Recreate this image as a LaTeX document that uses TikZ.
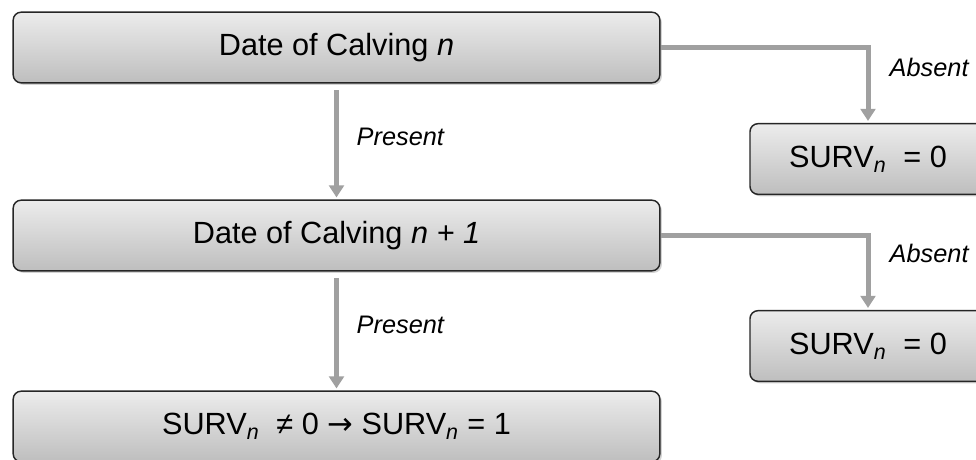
\documentclass[tikz,border=0pt]{standalone}
\usepackage{fontspec}
\setmainfont{Liberation Sans}
\newfontfamily\arrowfont{DejaVu Sans}
\usetikzlibrary{arrows.meta,shadows}
\definecolor{boxtop}{RGB}{236,236,236}
\definecolor{boxbot}{RGB}{190,190,190}
\definecolor{linkgray}{RGB}{160,160,160}
\tikzset{
  stagebox/.style={draw=black!85,line width=1.1pt,rounded corners=6pt,
    top color=boxtop,bottom color=boxbot,
    drop shadow={shadow xshift=1.5pt,shadow yshift=-1.5pt,opacity=0.35},
    minimum width=485pt,minimum height=53pt,font=\fontsize{23}{27}\selectfont},
  endbox/.style={stagebox,minimum width=177pt},
  link/.style={linkgray,line width=3.75pt,-{Triangle[width=11pt,length=9pt]}},
  tag/.style={text=black,font=\fontsize{19}{22}\selectfont\itshape,anchor=west}
}
\newcommand{\survn}{SURV\textsubscript{\itshape n}}
\begin{document}
\begin{tikzpicture}[x=0.75pt,y=-0.75pt]
      \useasboundingbox (0,0) rectangle (976,460);
      \node[stagebox] (calv1) at (336.5,47.5) {Date of Calving \textit{n}};
      \node[stagebox] (calv2) at (336.5,235.5) {Date of Calving \textit{n + 1}};
      \node[stagebox] (surv1) at (336.5,426.5) {\survn\ \ ≠ 0 {\arrowfont →} \survn\ = 1};
      \node[endbox] (zero1) at (868,159) {\survn\ \ = 0};
      \node[endbox] (zero2) at (868,346) {\survn\ \ = 0};

      \draw[link,shorten <=5pt,shorten >=1.5pt] (calv1.south) -- (calv2.north);
      \draw[link,shorten <=5pt,shorten >=1.5pt] (calv2.south) -- (surv1.north);
      \draw[link,shorten >=1.5pt] (calv1.east) -| (zero1.north);
      \draw[link,shorten >=1.5pt] (calv2.east) -| (zero2.north);
      \node[tag] (pres1) at (352,137) {Present};
      \node[tag] (pres2) at (352,325) {Present};
      \node[tag] (abs1) at (885,67) {Absent};
      \node[tag] (abs2) at (885,253) {Absent};
      \end{tikzpicture}
\end{document}
